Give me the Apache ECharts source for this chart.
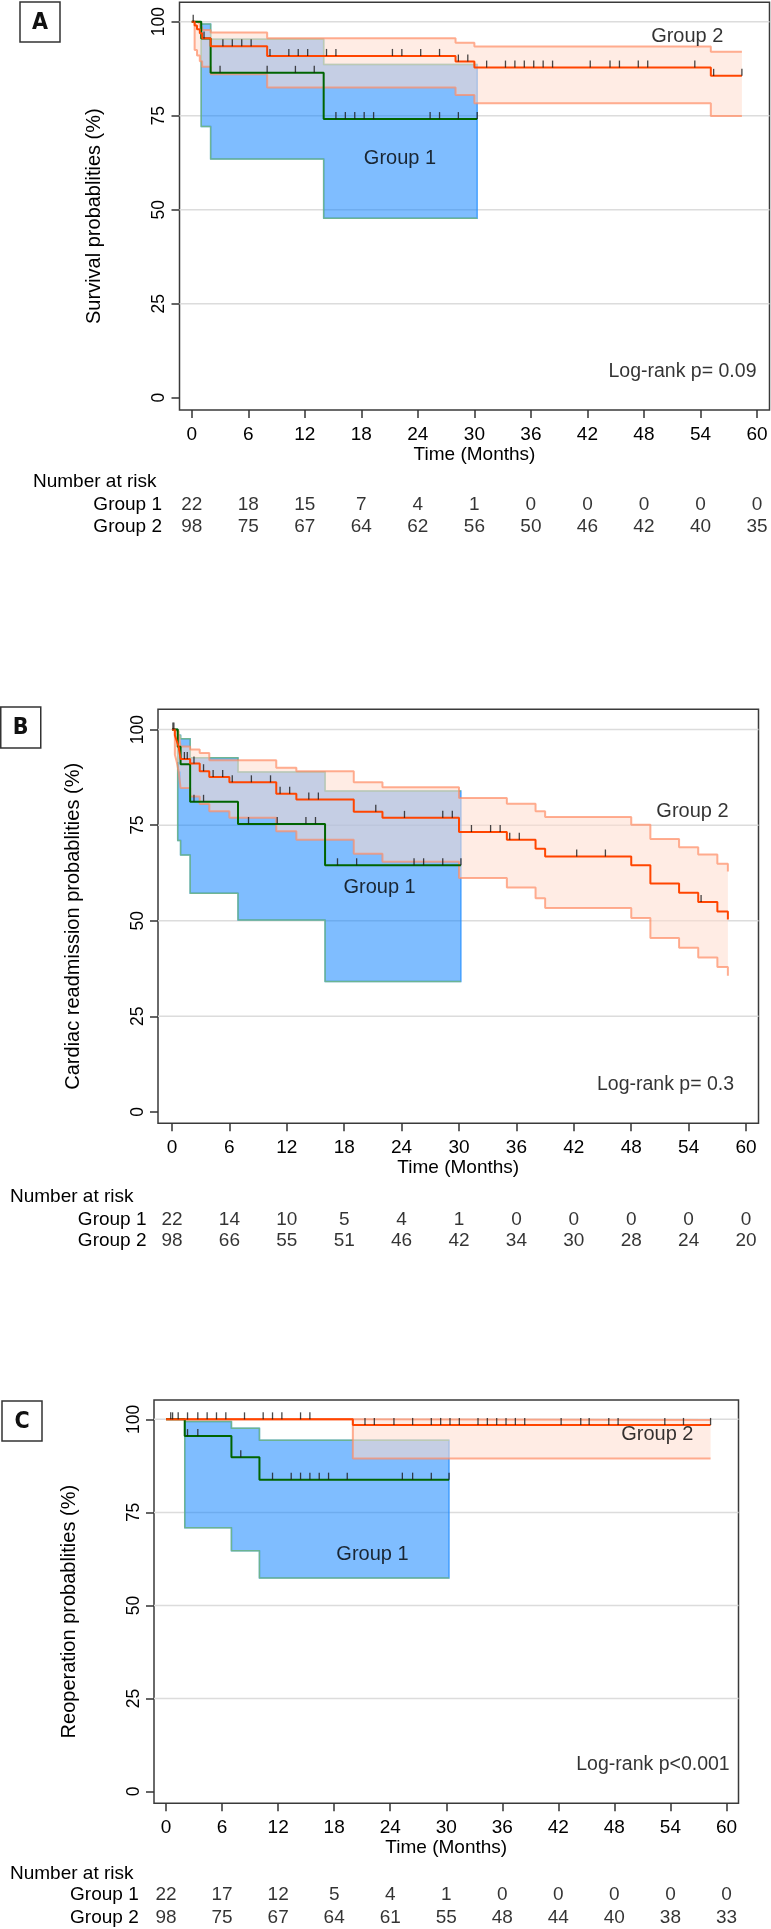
<!DOCTYPE html>
<html><head><meta charset="utf-8">
<script src="https://cdn.jsdelivr.net/npm/echarts@6/dist/echarts.min.js"></script>
<style>html,body{margin:0;padding:0;background:#fff}#c{width:771px;height:1929px}</style>
</head><body><div id="c"></div>
<script>
// ---------- shared ticks ----------
const xTickValues = [0, 6, 12, 18, 24, 30, 36, 42, 48, 54, 60];
const yTickValues = [0, 25, 50, 75, 100];
const gridLineValues = [25, 50, 75, 100];
const riskGroups = ['Group 1', 'Group 2'];

// ---------- Panel A : survival ----------
const A_g1_time  = [0, 1.0, 2.0, 14.0, 30.3];
const A_g1_surv  = [100, 95.5, 86.4, 74.1, 74.1];
const A_g1_upper = [100, 99.4, 95.3, 88.6, 88.6];
const A_g1_lower = [100, 72.1, 63.5, 47.7, 47.7];
const A_g1_censor = [1.3, 3.0, 8.0, 11.0, 13.0, 15.3, 16.3, 17.3, 18.3, 19.3, 25.3, 26.3, 28.3, 30.3];
const A_g2_time  = [0, 0.3, 0.55, 0.85, 1.1, 2.0, 8.0, 28.0, 30.0, 55.1, 58.4];
const A_g2_surv  = [100, 99.0, 98.0, 96.9, 95.6, 93.5, 90.9, 89.4, 87.8, 85.6, 85.6];
const A_g2_upper = [100, 100, 99.5, 98.5, 97.8, 97.1, 95.6, 94.4, 93.4, 92.0, 92.0];
const A_g2_lower = [100, 92.5, 91.0, 89.5, 88.0, 86.0, 82.5, 80.5, 78.3, 74.9, 74.9];
const A_g2_censor = [0.15, 3.3, 4.3, 5.3, 6.3, 8.3, 10.3, 11.3, 12.3, 14.3, 15.3, 21.3, 22.3, 24.3, 26.3, 28.3, 29.3, 31.3, 33.3, 34.3, 35.3, 36.3, 37.3, 38.3, 42.3, 44.4, 45.4, 47.4, 48.4, 53.4, 55.4, 58.4];
const A_risk_g1 = [22, 18, 15, 7, 4, 1, 0, 0, 0, 0, 0];
const A_risk_g2 = [98, 75, 67, 64, 62, 56, 50, 46, 42, 40, 35];

// ---------- Panel B : cardiac readmission ----------
const B_g1_time  = [0, 0.6, 0.9, 1.9, 6.9, 16.0, 30.2];
const B_g1_surv  = [100, 95.5, 90.9, 81.1, 75.3, 64.5, 64.5];
const B_g1_upper = [100, 98.5, 97.6, 92.6, 88.9, 83.9, 83.9];
const B_g1_lower = [100, 71.0, 67.2, 57.2, 50.2, 34.1, 34.1];
const B_g1_censor = [0.1, 2.3, 3.3, 8.0, 11.0, 14.0, 15.0, 17.3, 19.3, 25.3, 26.3, 28.3, 30.2];
const B_g2_time  = [0, 0.3, 0.5, 0.7, 0.9, 1.9, 2.9, 3.9, 6.0, 10.9, 13.0, 19.0, 22.0, 30.0, 35.0, 38.0, 39.0, 48.0, 50.0, 53.0, 55.0, 57.0, 58.1];
const B_g2_surv  = [100, 98.5, 97.0, 95.5, 92.3, 91.1, 89.1, 87.6, 86.2, 83.2, 81.7, 78.5, 76.9, 73.2, 71.2, 68.8, 66.8, 64.5, 59.7, 57.3, 54.9, 52.4, 50.3];
const B_g2_upper = [100, 100, 99.5, 98.5, 95.6, 94.8, 93.9, 92.0, 92.0, 90.0, 89.1, 86.2, 84.9, 82.1, 80.6, 78.6, 77.1, 75.1, 71.4, 69.2, 67.3, 64.9, 62.9];
const B_g2_lower = [100, 93.5, 91.5, 89.0, 84.7, 82.5, 80.5, 78.6, 76.9, 73.4, 71.2, 67.5, 65.4, 61.2, 58.7, 55.9, 53.3, 50.7, 45.5, 42.9, 40.4, 37.9, 35.6];
const B_g2_censor = [0.2, 1.3, 1.6, 2.3, 3.3, 4.3, 5.3, 6.3, 8.3, 10.3, 11.3, 12.3, 14.3, 15.3, 21.3, 24.3, 28.3, 29.3, 31.3, 33.3, 34.3, 35.3, 36.3, 42.3, 45.3, 55.3];
const B_risk_g1 = [22, 14, 10, 5, 4, 1, 0, 0, 0, 0, 0];
const B_risk_g2 = [98, 66, 55, 51, 46, 42, 34, 30, 28, 24, 20];

// ---------- Panel C : reoperation ----------
const C_g1_time  = [0, 2.0, 7.0, 10.0, 30.3];
const C_g1_surv  = [100, 95.5, 89.8, 83.8, 83.8];
const C_g1_upper = [100, 99.4, 97.6, 94.4, 94.4];
const C_g1_lower = [100, 70.9, 64.7, 57.4, 57.4];
const C_g1_censor = [2.3, 3.4, 8.0, 11.4, 13.4, 14.4, 15.4, 16.4, 17.4, 19.4, 25.3, 26.4, 28.4, 30.3];
const C_g2_time  = [0, 20.0, 58.3];
const C_g2_surv  = [100, 98.5, 98.5];
const C_g2_upper = [100, 99.8, 99.8];
const C_g2_lower = [100, 89.5, 89.5];
const C_g2_censor = [0.5, 0.7, 1.3, 2.3, 3.4, 4.4, 5.4, 6.4, 8.4, 10.4, 11.4, 12.4, 14.4, 15.4, 21.3, 22.3, 24.4, 26.4, 28.4, 29.4, 30.4, 31.4, 33.4, 34.4, 35.4, 36.4, 37.4, 38.4, 42.3, 44.4, 45.3, 47.4, 48.4, 53.4, 55.4, 58.3];
const C_risk_g1 = [22, 17, 12, 5, 4, 1, 0, 0, 0, 0, 0];
const C_risk_g2 = [98, 75, 67, 64, 61, 55, 48, 44, 40, 38, 33];

// ---------- texts ----------
const panelLetters = ['A', 'B', 'C'];
const yTitles = ['Survival probablities (%)', 'Cardiac readmission probablities (%)', 'Reoperation probablities (%)'];
const logRankTexts = ['Log-rank p= 0.09', 'Log-rank p= 0.3', 'Log-rank p<0.001'];

// ---------- layout (positions / sizes) ----------
const layout = [
  {grid:{left:179.5, top:2.3, width:590, height:407.7}, x:[-1.306, 61.33], y:[-3.27, 105.16],
   risk:{top:494.2, height:43.4, margin:17.5}, nar:{x:33, y:481.7}, box:{x:20, y:2, w:40, h:40},
   g1Label:[22.1, 63.7], g2Label:[52.6, 96.0], lr:[60, 6.9], nameGap:75},
  {grid:{left:158, top:709.3, width:600.5, height:414}, x:[-1.46, 61.3], y:[-3.0, 105.3],
   risk:{top:1209.5, height:42, margin:11.5}, nar:{x:10, y:1196.7}, box:{x:0.75, y:707, w:40, h:41},
   g1Label:[21.7, 58.6], g2Label:[54.4, 78.5], lr:[58.8, 7.1], nameGap:75},
  {grid:{left:154, top:1400, width:584.5, height:403.3}, x:[-1.29, 61.29], y:[-3.17, 105.2],
   risk:{top:1883.5, height:46, margin:15.3}, nar:{x:10, y:1874}, box:{x:2, y:1401, w:40, h:40},
   g1Label:[22.1, 63.7], g2Label:[52.6, 96.0], lr:[60.4, 7.1], nameGap:75}
];

const panelData = [
  {g1:{time:A_g1_time, surv:A_g1_surv, up:A_g1_upper, lo:A_g1_lower, cens:A_g1_censor},
   g2:{time:A_g2_time, surv:A_g2_surv, up:A_g2_upper, lo:A_g2_lower, cens:A_g2_censor},
   risk:[A_risk_g1, A_risk_g2]},
  {g1:{time:B_g1_time, surv:B_g1_surv, up:B_g1_upper, lo:B_g1_lower, cens:B_g1_censor},
   g2:{time:B_g2_time, surv:B_g2_surv, up:B_g2_upper, lo:B_g2_lower, cens:B_g2_censor},
   risk:[B_risk_g1, B_risk_g2]},
  {g1:{time:C_g1_time, surv:C_g1_surv, up:C_g1_upper, lo:C_g1_lower, cens:C_g1_censor},
   g2:{time:C_g2_time, surv:C_g2_surv, up:C_g2_upper, lo:C_g2_lower, cens:C_g2_censor},
   risk:[C_risk_g1, C_risk_g2]}
];

const FONT = "'Liberation Sans', Arial, sans-serif";
const BOLDC = "'Liberation Sans Narrow', 'DejaVu Sans Condensed', 'Liberation Sans', sans-serif";

function stepAt(time, val, t) {
  let v = val[0];
  for (let i = 0; i < time.length; i++) if (time[i] <= t + 1e-9) v = val[i];
  return v;
}
function pairs(time, val) { return time.map((t, i) => [t, val[i]]); }
function stepPoints(api, time, val) {
  const pts = [];
  for (let i = 0; i < time.length; i++) {
    pts.push(api.coord([time[i], val[i]]));
    if (i < time.length - 1) pts.push(api.coord([time[i + 1], val[i]]));
  }
  return pts;
}

const grids = [], xAxes = [], yAxes = [], series = [], graphics = [];

layout.forEach((L, k) => {
  const D = panelData[k];
  const gi = grids.length;
  grids.push({left:L.grid.left, top:L.grid.top, width:L.grid.width, height:L.grid.height,
    show:true, borderColor:'#3a3a3a', borderWidth:1.5, backgroundColor:'transparent', containLabel:false});
  grids.push({left:L.grid.left, top:L.risk.top, width:L.grid.width, height:L.risk.height, containLabel:false});

  xAxes.push({gridIndex:gi, type:'value', min:L.x[0], max:L.x[1],
    axisLine:{show:false, onZero:false},
    axisTick:{show:true, length:8, customValues:xTickValues, lineStyle:{color:'#333', width:1.5}},
    axisLabel:{show:true, customValues:xTickValues, margin:15, fontSize:19, color:'#000', fontFamily:FONT},
    splitLine:{show:false},
    name:'Time (Months)', nameLocation:'middle', nameGap:35,
    nameTextStyle:{fontSize:19, color:'#000', fontFamily:FONT}});
  xAxes.push({gridIndex:gi + 1, type:'value', min:L.x[0], max:L.x[1], show:false});

  yAxes.push({gridIndex:gi, type:'value', min:L.y[0], max:L.y[1],
    axisLine:{show:false, onZero:false},
    axisTick:{show:true, length:8, customValues:yTickValues, lineStyle:{color:'#333', width:1.5}},
    axisLabel:{show:true, customValues:yTickValues, rotate:90, margin:11, fontSize:17.5, color:'#000', fontFamily:FONT},
    splitLine:{show:false},
    name:yTitles[k], nameLocation:'middle', nameGap:L.nameGap,
    nameTextStyle:{fontSize:20, color:'#000', fontFamily:FONT, padding:[0, 20, 0, 0]}});
  yAxes.push({gridIndex:gi + 1, type:'category', data:riskGroups, inverse:true,
    axisLine:{show:false}, axisTick:{show:false}, splitLine:{show:false},
    axisLabel:{show:true, interval:0, hideOverlap:false, margin:L.risk.margin, fontSize:19, color:'#000', fontFamily:FONT}});

  const xi = gi, yi = gi;

  // grid lines
  series.push({type:'custom', xAxisIndex:xi, yAxisIndex:yi, z:1, silent:true,
    data:gridLineValues.map(v => [0, v]),
    renderItem:(params, api) => {
      const cs = params.coordSys;
      const y = api.coord([0, api.value(1)])[1];
      return {type:'line', shape:{x1:cs.x, y1:y, x2:cs.x + cs.width, y2:y},
        style:{stroke:'#dcdcdc', lineWidth:1.5}};
    }});

  // confidence bands
  const band = (g, fill, stroke, z) => ({type:'custom', xAxisIndex:xi, yAxisIndex:yi, z:z, silent:true,
    data:[[0, 50]],
    renderItem:(params, api) => {
      const up = stepPoints(api, g.time, g.up);
      const lo = stepPoints(api, g.time, g.lo).reverse();
      return {type:'polygon', shape:{points:up.concat(lo)},
        style:{fill:fill, stroke:stroke, lineWidth:stroke ? 1.5 : 0}};
    }});
  series.push(band(D.g1, 'rgba(0,123,255,0.5)', 'rgba(30,140,255,0.7)', 2));
  series.push(band(D.g2, 'rgba(255,221,206,0.55)', null, 4));

  const stepLine = (data, color, width, z) => ({type:'line', xAxisIndex:xi, yAxisIndex:yi, step:'end',
    data:data, symbol:'none', showSymbol:false, silent:true, z:z, animation:false,
    lineStyle:{color:color, width:width}});
  series.push(stepLine(pairs(D.g1.time, D.g1.up), 'rgba(120,185,110,0.75)', 1.5, 3));
  series.push(stepLine(pairs(D.g1.time, D.g1.lo), 'rgba(120,185,110,0.75)', 1.5, 3));
  series.push(stepLine(pairs(D.g2.time, D.g2.up), 'rgba(255,140,100,0.7)', 2, 5));
  series.push(stepLine(pairs(D.g2.time, D.g2.lo), 'rgba(255,140,100,0.7)', 2, 5));
  series.push(stepLine(pairs(D.g1.time, D.g1.surv), '#006400', 2, 6));
  series.push(stepLine(pairs(D.g2.time, D.g2.surv), '#ff4500', 2, 7));

  // censor marks
  const cens = (g) => ({type:'scatter', xAxisIndex:xi, yAxisIndex:yi, z:8, silent:true,
    data:g.cens.map(t => [t, stepAt(g.time, g.surv, t)]),
    symbol:'rect', symbolSize:[1.3, 7], symbolOffset:[0, -3.5],
    itemStyle:{color:'#1a1a1a'}});
  series.push(cens(D.g1));
  series.push(cens(D.g2));

  // annotations
  series.push({type:'scatter', xAxisIndex:xi, yAxisIndex:yi, z:9, silent:true,
    symbolSize:1, itemStyle:{color:'rgba(0,0,0,0)'},
    data:[
      {value:L.g1Label, label:{show:true, position:'inside', formatter:'Group 1', fontSize:20, color:'#000', fontFamily:FONT}},
      {value:L.g2Label, label:{show:true, position:'inside', formatter:'Group 2', fontSize:20, color:'#000', fontFamily:FONT}},
      {value:L.lr, label:{show:true, position:'left', distance:0, formatter:logRankTexts[k], fontSize:19.5, color:'#000', fontFamily:FONT}}
    ]});

  // number at risk table
  D.risk.forEach((arr, r) => {
    series.push({type:'scatter', xAxisIndex:xi + 1, yAxisIndex:yi + 1, silent:true,
      symbolSize:1, itemStyle:{color:'rgba(0,0,0,0)'},
      data:xTickValues.map((x, i) => [x, riskGroups[r], arr[i]]),
      label:{show:true, position:'inside', formatter:p => String(p.value[2]), fontSize:19, color:'#000', fontFamily:FONT}});
  });

  graphics.push({type:'text', x:L.nar.x, y:L.nar.y,
    style:{text:'Number at risk', fill:'#000', font:'19px ' + FONT, align:'left', verticalAlign:'middle'}});
  graphics.push({type:'rect', shape:{x:L.box.x, y:L.box.y, width:L.box.w, height:L.box.h},
    style:{fill:'#fff', stroke:'#333', lineWidth:1.5}});
  graphics.push({type:'text', x:L.box.x + L.box.w / 2, y:L.box.y + L.box.h / 2 + 1,
    style:{text:panelLetters[k], fill:'#111', font:'bold 23px ' + BOLDC, align:'center', verticalAlign:'middle'}});
});

const chart = echarts.init(document.getElementById('c'), null, {renderer:'canvas'});
chart.setOption({
  animation:false,
  backgroundColor:'#ffffff',
  grid:grids, xAxis:xAxes, yAxis:yAxes, series:series, graphic:graphics
});
</script></body></html>
